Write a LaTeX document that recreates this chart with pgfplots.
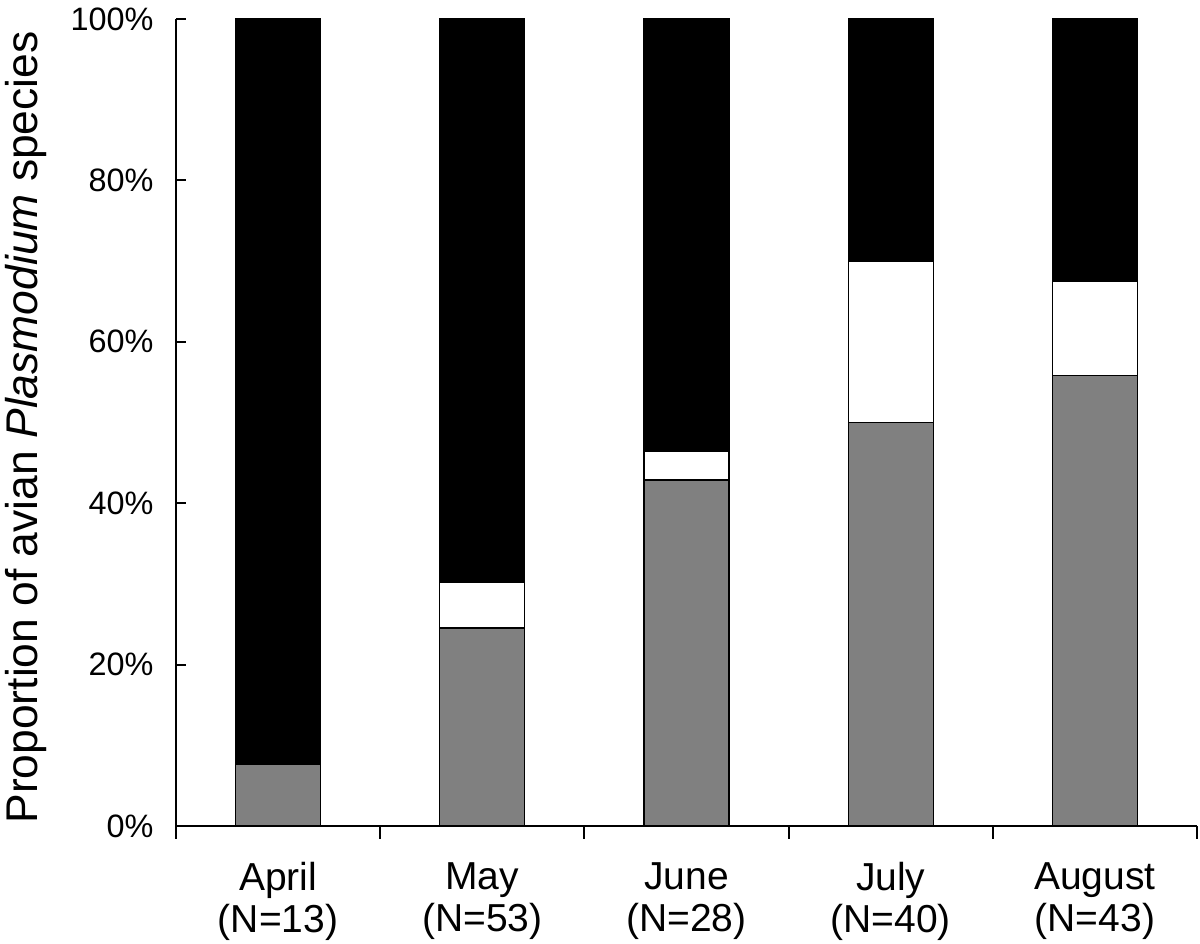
\documentclass[border=0pt]{standalone}
\usepackage{fontspec}
\setmainfont{Liberation Sans}
\usepackage{pgfplots}
\pgfplotsset{compat=1.18}
\definecolor{barGray}{RGB}{128,128,128}

\begin{document}
\begin{tikzpicture}
% picture frame: 3 px of the reference per pt
\useasboundingbox (-58.67pt,-39.33pt) rectangle (341.33pt,275.33pt);
\begin{axis}[
  at={(0,0)}, anchor=south west,
  scale only axis,
  width=340.33pt, height=269pt,
  ybar stacked, bar width=28.33pt,
  xmin=-0.5, xmax=4.5,
  ymin=0, ymax=100,
  clip=false,
  axis x line=bottom, axis y line=left,
  axis line style={-, line width=0.7pt, black},
  xtick={0,...,4},
  xticklabels={{April\\(N=13)},{May\\(N=53)},{June\\(N=28)},{July\\(N=40)},{August\\(N=43)}},
  minor xtick={-0.5,0.5,...,4.5},
  major x tick style={draw=none},
  minor x tick style={line width=0.7pt, black},
  major y tick style={line width=0.7pt, black},
  tick align=inside,
  major tick length=3.33pt,
  minor tick length=-4.2pt,
  ytick={0,20,...,100},
  yticklabels={0\%,20\%,40\%,60\%,80\%,100\%},
  xticklabel style={font=\fontsize{13}{14}\selectfont, align=center, inner sep=0pt, anchor=north, yshift=-12pt},
  yticklabel style={font=\fontsize{10.8}{12}\selectfont, inner sep=0pt, anchor=east, xshift=-7.3pt},
  ylabel={Proportion of avian \textit{Plasmodium} species},
  ylabel style={font=\fontsize{14.8}{16}\selectfont, inner sep=0pt,
    at={(axis description cs:-0.136,0.4938)}, anchor=base, rotate=0},
  every axis plot/.append style={draw=black, line width=0.45pt},
]
\addplot[fill=barGray] coordinates {(0,7.69) (1,24.53) (2,42.86) (3,50.00) (4,55.81)};
\addplot[fill=white] coordinates {(0,0.00) (1,5.66) (2,3.57) (3,20.00) (4,11.63)};
\addplot[fill=black] coordinates {(0,92.31) (1,69.81) (2,53.57) (3,30.00) (4,32.56)};
\end{axis}
\end{tikzpicture}
\end{document}
